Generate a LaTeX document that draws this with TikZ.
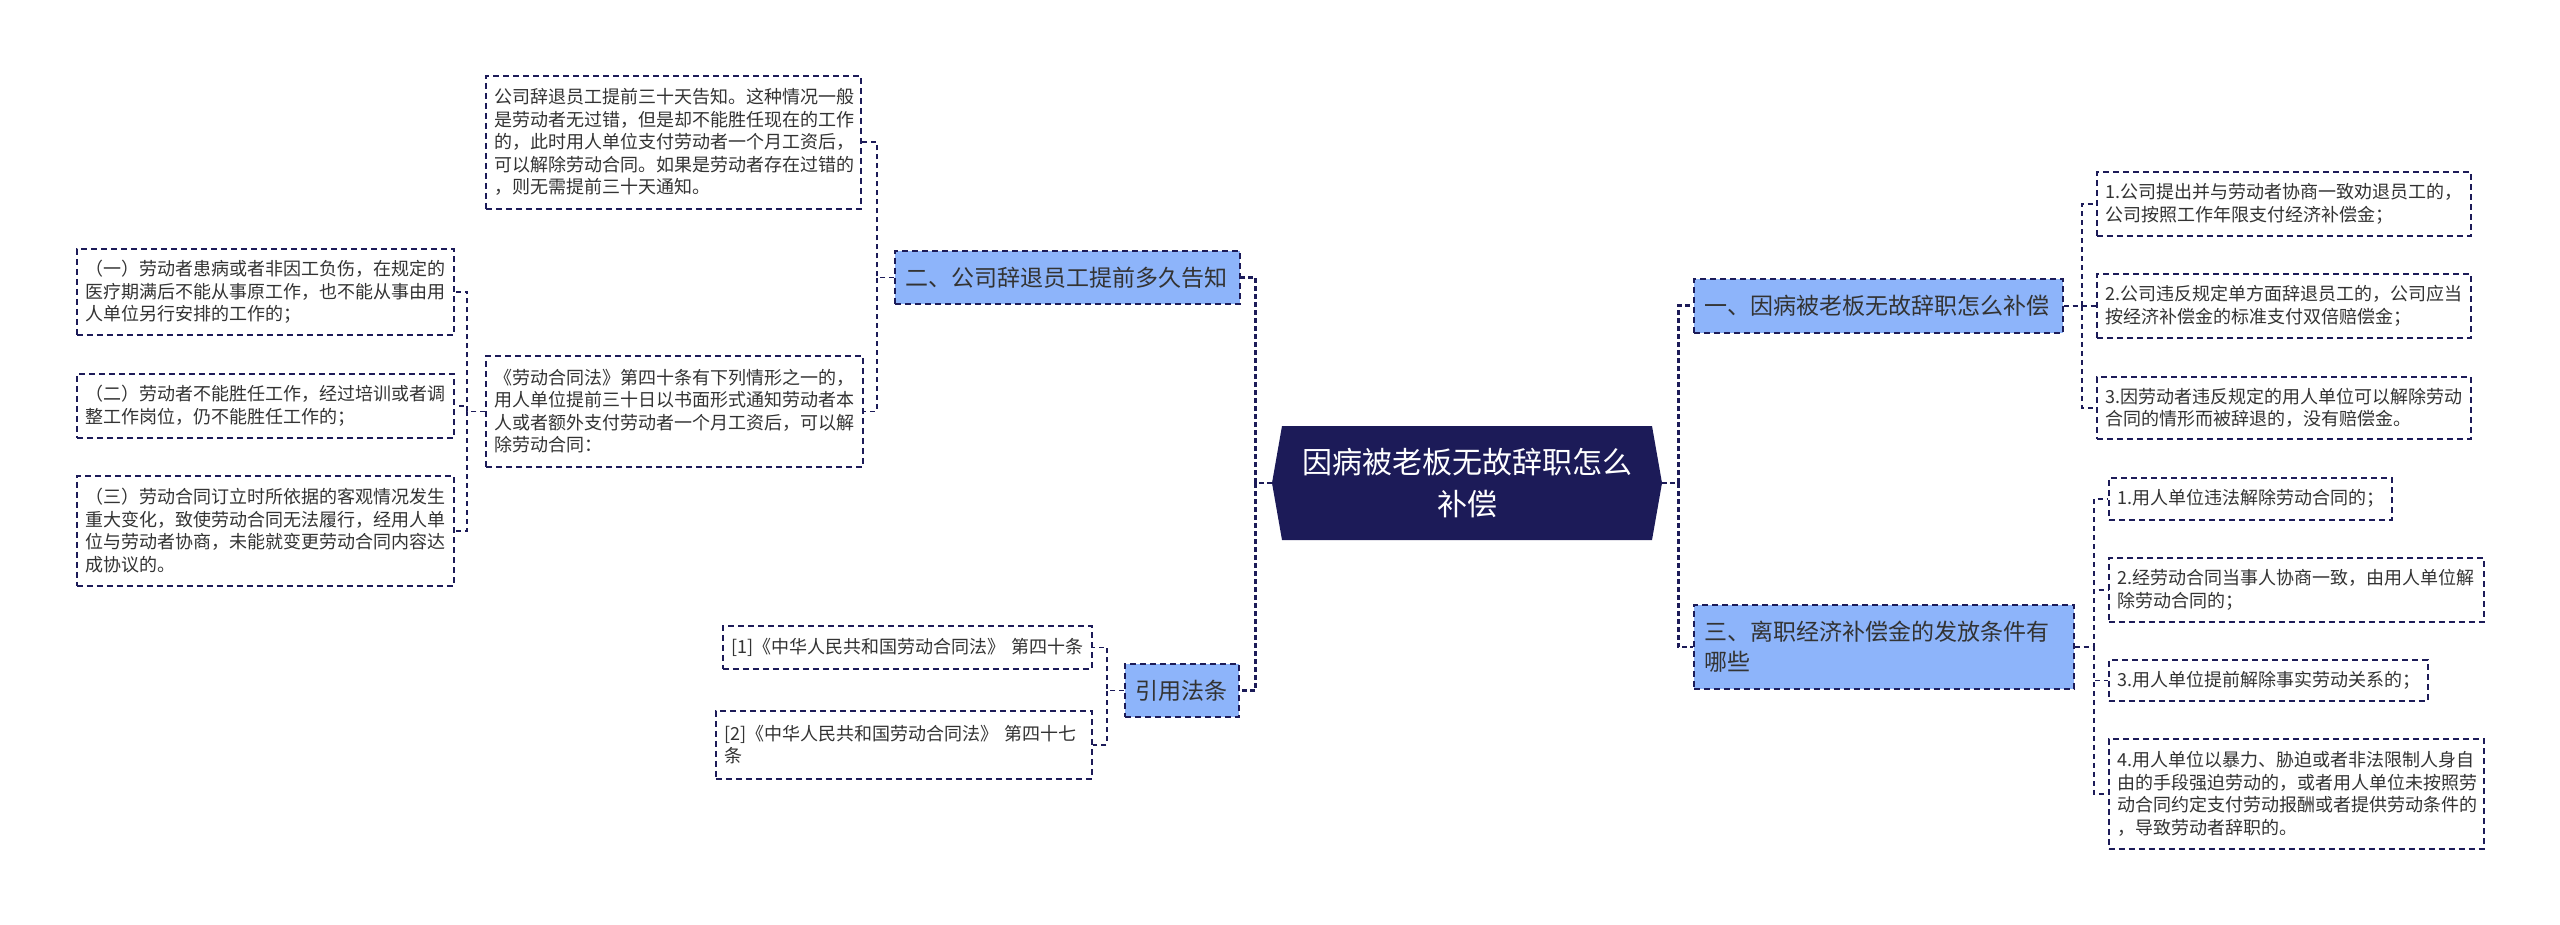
\documentclass[tikz,border=0pt]{standalone}
\usepackage{fontspec}
\setmainfont{Noto Sans CJK SC}
\usepackage{tikz}
\usetikzlibrary{positioning}
\definecolor{navy}{RGB}{28,27,88}
\definecolor{branchblue}{RGB}{141,180,250}
\definecolor{leaftext}{RGB}{51,51,51}
\tikzset{
 leaf/.style={draw=navy, line width=1.6pt, dash pattern=on 6pt off 4pt, fill=white, anchor=north west,
   align=left, inner xsep=9pt, text=leaftext, font=\fontsize{18}{22.5}\selectfont},
 branch/.style={draw=navy, line width=1.8pt, dash pattern=on 6pt off 4pt, fill=branchblue, anchor=north west,
   align=left, inner xsep=11pt, text=leaftext, font=\fontsize{23}{30}\selectfont},
 link/.style={draw=navy, line width=1.6pt, dash pattern=on 5pt off 4pt},
 trunk/.style={draw=navy, line width=2.8pt, dash pattern=on 5pt off 3pt},
}
\begin{document}
\begin{tikzpicture}[x=1pt,y=-1pt]
 \useasboundingbox (0,0) rectangle (2560,925);

 % centre
 \fill[navy] (1272,483) -- (1282,426) -- (1652,426) -- (1662,483) -- (1652,540) -- (1282,540) -- cycle;
 \node[minimum width=390pt, minimum height=114pt, align=center, text=white,
   font=\fontsize{30}{42}\selectfont] (root) at (1467,483) {因病被老板无故辞职怎么\\补偿};

 % branches
 \node[branch, text width=323pt, minimum height=53pt] (b2) at (894,250) {二、公司辞退员工提前多久告知};
 \node[branch, text width=92pt, minimum height=53pt] (b4) at (1124,663) {引用法条};
 \node[branch, text width=347pt, minimum height=54pt] (b1) at (1693,278) {一、因病被老板无故辞职怎么补偿};
 \node[branch, text width=358pt, minimum height=84pt] (b3) at (1693,604) {三、离职经济补偿金的发放条件有\\哪些};

 % left leaves
 \node[leaf, text width=357pt, minimum height=133pt] (kA) at (485,75) {公司辞退员工提前三十天告知。这种情况一般\\是劳动者无过错，但是却不能胜任现在的工作\\的，此时用人单位支付劳动者一个月工资后，\\可以解除劳动合同。如果是劳动者存在过错的\\，则无需提前三十天通知。};
 \node[leaf, text width=359pt, minimum height=111pt] (kB) at (485,355) {《劳动合同法》第四十条有下列情形之一的，\\用人单位提前三十日以书面形式通知劳动者本\\人或者额外支付劳动者一个月工资后，可以解\\除劳动合同：};
 \node[leaf, text width=359pt, minimum height=86pt] (c1) at (76,248) {（一）劳动者患病或者非因工负伤，在规定的\\医疗期满后不能从事原工作，也不能从事由用\\人单位另行安排的工作的；};
 \node[leaf, text width=359pt, minimum height=64pt] (c2) at (76,373) {（二）劳动者不能胜任工作，经过培训或者调\\整工作岗位，仍不能胜任工作的；};
 \node[leaf, text width=359pt, minimum height=110pt] (c3) at (76,475) {（三）劳动合同订立时所依据的客观情况发生\\重大变化，致使劳动合同无法履行，经用人单\\位与劳动者协商，未能就变更劳动合同内容达\\成协议的。};
 \node[leaf, text width=351pt, minimum height=43pt] (d1) at (722,625) {[1]《中华人民共和国劳动合同法》~第四十条};
 \node[leaf, text width=358pt, minimum height=68pt] (d2) at (715,710) {[2]《中华人民共和国劳动合同法》~第四十七\\条};

 % right leaves
 \node[leaf, text width=356pt, minimum height=64pt] (r1) at (2096,171) {1.公司提出并与劳动者协商一致劝退员工的，\\公司按照工作年限支付经济补偿金；};
 \node[leaf, text width=356pt, minimum height=64pt] (r2) at (2096,273) {2.公司违反规定单方面辞退员工的，公司应当\\按经济补偿金的标准支付双倍赔偿金；};
 \node[leaf, text width=356pt, minimum height=62pt] (r3) at (2096,376) {3.因劳动者违反规定的用人单位可以解除劳动\\合同的情形而被辞退的，没有赔偿金。};
 \node[leaf, text width=265pt, minimum height=42pt] (s1) at (2108,477) {1.用人单位违法解除劳动合同的；};
 \node[leaf, text width=357pt, minimum height=64pt] (s2) at (2108,557) {2.经劳动合同当事人协商一致，由用人单位解\\除劳动合同的；};
 \node[leaf, text width=301pt, minimum height=41pt] (s3) at (2108,659) {3.用人单位提前解除事实劳动关系的；};
 \node[leaf, text width=357pt, minimum height=110pt] (s4) at (2108,738) {4.用人单位以暴力、胁迫或者非法限制人身自\\由的手段强迫劳动的，或者用人单位未按照劳\\动合同约定支付劳动报酬或者提供劳动条件的\\，导致劳动者辞职的。};

 % connectors
 \draw[trunk] (root.west) -- ++(-16,0) |- (b2.east);
 \draw[trunk] (root.west) -- ++(-16,0) |- (b4.east);
 \draw[trunk] (root.east) -- ++(16,0) |- (b1.west);
 \draw[trunk] (root.east) -- ++(16,0) |- (b3.west);

 \draw[link] (b2.west) -- ++(-17,0) |- (kA.east);
 \draw[link] (b2.west) -- ++(-17,0) |- (kB.east);
 \draw[link] (kB.west) -- ++(-18,0) |- (c1.east);
 \draw[link] (kB.west) -- ++(-18,0) |- (c2.east);
 \draw[link] (kB.west) -- ++(-18,0) |- (c3.east);
 \draw[link] (b4.west) -- ++(-17,0) |- (d1.east);
 \draw[link] (b4.west) -- ++(-17,0) |- (d2.east);

 \draw[link] (b1.east) -- ++(18,0) |- (r1.west);
 \draw[link] (b1.east) -- ++(18,0) |- (r2.west);
 \draw[link] (b1.east) -- ++(18,0) |- (r3.west);
 \draw[link] (b3.east) -- ++(19,0) |- (s1.west);
 \draw[link] (b3.east) -- ++(19,0) |- (s2.west);
 \draw[link] (b3.east) -- ++(19,0) |- (s3.west);
 \draw[link] (b3.east) -- ++(19,0) |- (s4.west);
\end{tikzpicture}
\end{document}
